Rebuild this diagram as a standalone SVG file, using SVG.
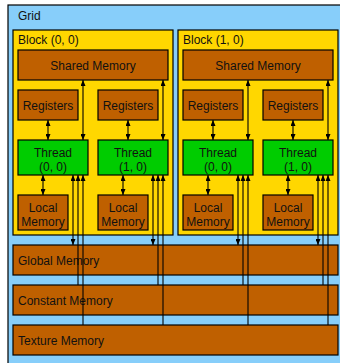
<svg xmlns="http://www.w3.org/2000/svg" width="340" height="363" viewBox="0 0 340 363">
<style>
.grid{fill:#87CEFA;stroke:#000;stroke-width:1.2}
.blk{fill:#FFD700;stroke:#000;stroke-width:1.2}
.mem{fill:#BF6000;stroke:#000;stroke-width:1.2}
.thr{fill:#00CC00;stroke:#000;stroke-width:1.2}
text{font-family:"Liberation Sans",Arial,sans-serif;font-size:12px;fill:#111}
.c{text-anchor:middle}
.ln{stroke:#000;stroke-width:1.1;fill:none}
.bi{marker-start:url(#ah);marker-end:url(#ah)}
.up{marker-start:url(#ah)}
</style>
<defs>
<marker id="ah" viewBox="0 0 6 5" refX="6" refY="2.5" markerWidth="6" markerHeight="5" markerUnits="userSpaceOnUse" orient="auto-start-reverse">
<path d="M0,0 L6,2.5 L0,5 z" fill="#000"/>
</marker>
</defs>
<g id="grid"><rect class="grid" x="8" y="5" width="340" height="365"/><text x="18" y="20">Grid</text></g>
<g id="block00"><rect class="blk" x="13" y="30" width="160" height="205"/><text x="18" y="44">Block (0, 0)</text></g>
<g id="block10"><rect class="blk" x="178" y="30" width="160" height="205"/><text x="183" y="44">Block (1, 0)</text></g>
<g id="shared00"><rect class="mem" x="18" y="50" width="150" height="30"/><text class="c" x="93" y="69.5">Shared Memory</text></g>
<g id="shared10"><rect class="mem" x="183" y="50" width="150" height="30"/><text class="c" x="258" y="69.5">Shared Memory</text></g>
<g id="reg00"><rect class="mem" x="18" y="90" width="60" height="30"/><text class="c" x="48" y="109.5">Registers</text></g>
<g id="reg01"><rect class="mem" x="98" y="90" width="60" height="30"/><text class="c" x="128" y="109.5">Registers</text></g>
<g id="reg10"><rect class="mem" x="183" y="90" width="60" height="30"/><text class="c" x="213" y="109.5">Registers</text></g>
<g id="reg11"><rect class="mem" x="263" y="90" width="60" height="30"/><text class="c" x="293" y="109.5">Registers</text></g>
<g id="thread00"><rect class="thr" x="18" y="140" width="70" height="35"/><text class="c" x="53" y="156.5">Thread</text><text class="c" x="53" y="170.5">(0, 0)</text></g>
<g id="thread01"><rect class="thr" x="98" y="140" width="70" height="35"/><text class="c" x="133" y="156.5">Thread</text><text class="c" x="133" y="170.5">(1, 0)</text></g>
<g id="thread10"><rect class="thr" x="183" y="140" width="70" height="35"/><text class="c" x="218" y="156.5">Thread</text><text class="c" x="218" y="170.5">(0, 0)</text></g>
<g id="thread11"><rect class="thr" x="263" y="140" width="70" height="35"/><text class="c" x="298" y="156.5">Thread</text><text class="c" x="298" y="170.5">(1, 0)</text></g>
<g id="local00"><rect class="mem" x="18" y="195" width="50" height="35"/><text class="c" x="43" y="211.5">Local</text><text class="c" x="43" y="225.5">Memory</text></g>
<g id="local01"><rect class="mem" x="98" y="195" width="50" height="35"/><text class="c" x="123" y="211.5">Local</text><text class="c" x="123" y="225.5">Memory</text></g>
<g id="local10"><rect class="mem" x="183" y="195" width="50" height="35"/><text class="c" x="208" y="211.5">Local</text><text class="c" x="208" y="225.5">Memory</text></g>
<g id="local11"><rect class="mem" x="263" y="195" width="50" height="35"/><text class="c" x="288" y="211.5">Local</text><text class="c" x="288" y="225.5">Memory</text></g>
<g id="global"><rect class="mem" x="13" y="245" width="325" height="30"/><text x="18" y="264.5">Global Memory</text></g>
<g id="constant"><rect class="mem" x="13" y="285" width="325" height="30"/><text x="18" y="304.5">Constant Memory</text></g>
<g id="texture"><rect class="mem" x="13" y="325" width="325" height="30"/><text x="18" y="344.5">Texture Memory</text></g>
<g id="connectors">
<path class="ln bi" d="M48,120V140"/><path class="ln bi" d="M128,120V140"/><path class="ln bi" d="M213,120V140"/><path class="ln bi" d="M293,120V140"/>
<path class="ln bi" d="M83,80V140"/><path class="ln bi" d="M163,80V140"/><path class="ln bi" d="M248,80V140"/><path class="ln bi" d="M328,80V140"/>
<path class="ln bi" d="M43,175V195"/><path class="ln bi" d="M123,175V195"/><path class="ln bi" d="M208,175V195"/><path class="ln bi" d="M288,175V195"/>
<path class="ln bi" d="M73,175V245"/><path class="ln up" d="M78,175V285"/><path class="ln up" d="M83,175V325"/>
<path class="ln bi" d="M153,175V245"/><path class="ln up" d="M158,175V285"/><path class="ln up" d="M163,175V325"/>
<path class="ln bi" d="M238,175V245"/><path class="ln up" d="M243,175V285"/><path class="ln up" d="M248,175V325"/>
<path class="ln bi" d="M318,175V245"/><path class="ln up" d="M323,175V285"/><path class="ln up" d="M328,175V325"/>
</g>
</svg>
